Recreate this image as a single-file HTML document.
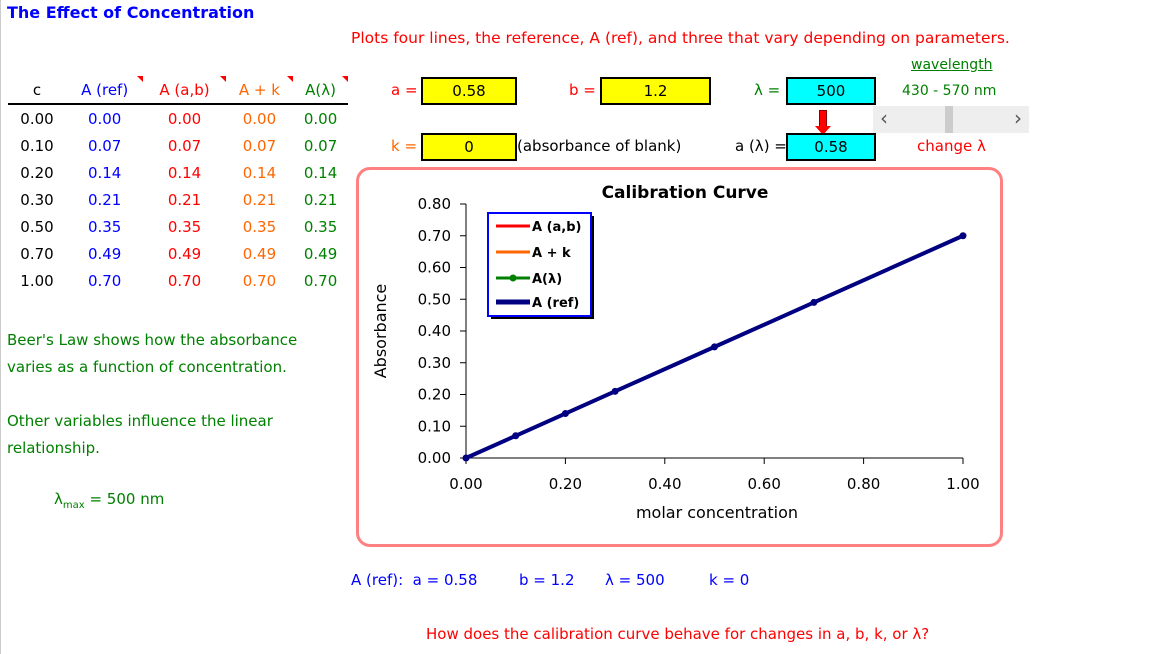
<!DOCTYPE html>
<html><head><meta charset="utf-8"><style>
body{margin:0;width:1161px;height:654px;background:#fff;position:relative;overflow:hidden;font-family:"DejaVu Sans","Liberation Sans",sans-serif;font-size:15px}
.a{position:absolute;white-space:nowrap}
.box{position:absolute;border:2px solid #000;text-align:center;line-height:24px;height:24px;font-size:15px}
.y{background:#ffff00}.c{background:#00ffff}
td{text-align:center;height:27px;padding:0;font-size:15px;position:relative}
.tri{position:absolute;right:0;top:0;width:0;height:0;border-left:6px solid transparent;border-top:6px solid #ff0000}
</style></head><body>
<div class="a" style="left:0;top:0;width:1px;height:654px;background:#ccc"></div>
<div class="a" style="left:7px;top:3px;color:#0000ff;font-weight:bold;font-size:16px">The Effect of Concentration</div>
<div class="a" style="left:351px;top:29px;color:#ff0000;font-size:15.5px">Plots four lines, the reference, A (ref), and three that vary depending on parameters.</div>
<table style="position:absolute;left:8px;top:76px;border-collapse:collapse;width:340px">
<tr style="border-bottom:2px solid #000"><td style="width:58px">c</td><td style="color:#0000ff">A (ref)<span class="tri"></span></td><td style="color:#ff0000">A (a,b)<span class="tri"></span></td><td style="color:#ff6600">A + k<span class="tri"></span></td><td style="color:#008000">A(λ)<span class="tri"></span></td></tr>
<tbody id="tb"></tbody></table>
<div class="a" style="left:7px;top:327px;color:#008000;line-height:27px">Beer's Law shows how the absorbance<br>varies as a function of concentration.</div>
<div class="a" style="left:7px;top:408px;color:#008000;line-height:27px">Other variables influence the linear<br>relationship.</div>
<div class="a" style="left:54px;top:490px;color:#008000">λ<sub style="font-size:10px">max</sub> = 500 nm</div>
<div class="a" style="left:391px;top:81px;color:#ff0000">a =</div>
<div class="box y" style="left:421px;top:77px;width:92px">0.58</div>
<div class="a" style="left:569px;top:81px;color:#ff0000">b =</div>
<div class="box y" style="left:600px;top:77px;width:107px">1.2</div>
<div class="a" style="left:754px;top:81px;color:#008000">λ =</div>
<div class="box c" style="left:786px;top:77px;width:86px">500</div>
<div class="a" style="left:911px;top:57px;color:#008000;text-decoration:underline;font-size:14px">wavelength</div>
<div class="a" style="left:902px;top:83px;color:#008000;font-size:14px">430 - 570 nm</div>
<div class="a" style="left:873px;top:106px;width:156px;height:27px;background:#eee"><span style="position:absolute;left:7px;top:0;color:#555;font-size:20px">‹</span><span style="position:absolute;left:72px;top:0;width:8px;height:27px;background:#ccc"></span><span style="position:absolute;right:7px;top:0;color:#555;font-size:20px">›</span></div>
<div class="a" style="left:819px;top:110px;width:6px;height:17px;background:#ff0000;border:1px solid #800"></div>
<div class="a" style="left:815px;top:126px;width:0;height:0;border-left:8px solid transparent;border-right:8px solid transparent;border-top:9px solid #ff0000"></div>
<div class="a" style="left:391px;top:137px;color:#ff6600">k =</div>
<div class="box y" style="left:421px;top:133px;width:92px">0</div>
<div class="a" style="left:517px;top:137px">(absorbance of blank)</div>
<div class="a" style="left:735px;top:137px">a (λ) =</div>
<div class="box c" style="left:786px;top:133px;width:86px">0.58</div>
<div class="a" style="left:917px;top:137px;color:#ff0000">change λ</div>
<div class="a" style="left:356px;top:167px;width:641px;height:374px;border:3px solid #ff8080;border-radius:14px"></div>
<svg class="a" style="left:0;top:0" width="1161" height="654">
<text x="685" y="198" text-anchor="middle" font-weight="bold" font-size="17">Calibration Curve</text>
<g id="axes"></g><g id="lines"></g>
<text x="717" y="518" text-anchor="middle" font-size="16">molar concentration</text>
<text transform="translate(386,331) rotate(-90)" text-anchor="middle" font-size="16">Absorbance</text>
<g>
<rect x="491" y="216" width="103" height="103" fill="#000"/>
<rect x="488" y="213" width="103" height="103" fill="#fff" stroke="#0000ff" stroke-width="2"/>
<line x1="496" y1="226" x2="530" y2="226" stroke="#ff0000" stroke-width="3"/><text x="532" y="231" font-size="13" font-weight="bold">A (a,b)</text>
<line x1="496" y1="252" x2="530" y2="252" stroke="#ff6600" stroke-width="3"/><text x="532" y="257" font-size="13" font-weight="bold">A + k</text>
<line x1="496" y1="278" x2="530" y2="278" stroke="#008000" stroke-width="3"/><circle cx="513" cy="278" r="3.5" fill="#008000"/><text x="532" y="283" font-size="13" font-weight="bold">A(λ)</text>
<line x1="496" y1="302" x2="530" y2="302" stroke="#000080" stroke-width="5"/><text x="532" y="307" font-size="13" font-weight="bold">A (ref)</text>
</g>
</svg>
<div class="a" style="left:351px;top:571px;color:#0000ff">A (ref):&nbsp; a = 0.58 <span style="position:absolute;left:168px">b = 1.2</span><span style="position:absolute;left:254px">λ = 500</span><span style="position:absolute;left:358px">k = 0</span></div>
<div class="a" style="left:426px;top:625px;color:#ff0000">How does the calibration curve behave for changes in a, b, k, or λ?</div>
<script>
const conc=[0,0.1,0.2,0.3,0.5,0.7,1.0];
const aRef=[0,0.07,0.14,0.21,0.35,0.49,0.70];
const aAB=[0,0.07,0.14,0.21,0.35,0.49,0.70];
const aK=[0,0.07,0.14,0.21,0.35,0.49,0.70];
const aL=[0,0.07,0.14,0.21,0.35,0.49,0.70];
const xTicks=[0,0.2,0.4,0.6,0.8,1.0];
const yTicks=[0,0.1,0.2,0.3,0.4,0.5,0.6,0.7,0.8];
const X=v=>466+v*497, Y=v=>458-v*317.5;
const NS="http://www.w3.org/2000/svg";
const tb=document.getElementById('tb');
conc.forEach((c,i)=>{const tr=document.createElement('tr');


[[c,'#000'],[aRef[i],'#0000ff'],[aAB[i],'#ff0000'],[aK[i],'#ff6600'],[aL[i],'#008000']].forEach(([v,col])=>{const td=document.createElement('td');td.textContent=v.toFixed(2);td.style.color=col;tr.appendChild(td);});tb.appendChild(tr);});
function el(t,a,p){const e=document.createElementNS(NS,t);for(const k in a)e.setAttribute(k,a[k]);p.appendChild(e);return e;}
const ax=document.getElementById('axes');
el('line',{x1:466,y1:Y(0.8),x2:466,y2:458,stroke:'#000'},ax);
el('line',{x1:466,y1:458,x2:X(1),y2:458,stroke:'#000'},ax);
yTicks.forEach(v=>{el('line',{x1:460,y1:Y(v),x2:466,y2:Y(v),stroke:'#000'},ax);
const t=el('text',{x:451,y:Y(v)+5,'text-anchor':'end','font-size':15},ax);t.textContent=v.toFixed(2);

});
xTicks.forEach(v=>{el('line',{x1:X(v),y1:458,x2:X(v),y2:464,stroke:'#000'},ax);
const t=el('text',{x:X(v),y:489,'text-anchor':'middle','font-size':15},ax);t.textContent=v.toFixed(2);

});
const lg=document.getElementById('lines');
[[aAB,'#ff0000',2,'series-a-ab'],[aK,'#ff6600',2,'series-a-k'],[aL,'#008000',2,'series-a-lambda'],[aRef,'#000080',4,'series-a-ref']].forEach(([d,col,w,n])=>{
const p=el('polyline',{points:conc.map((c,i)=>X(c)+','+Y(d[i])).join(' '),fill:'none',stroke:col,'stroke-width':w},lg);


if(n==='series-a-ref')conc.forEach((c,i)=>{const m=el('circle',{cx:X(c),cy:Y(d[i]),r:3.5,fill:col},lg);

});
});
</script>
</body></html>
